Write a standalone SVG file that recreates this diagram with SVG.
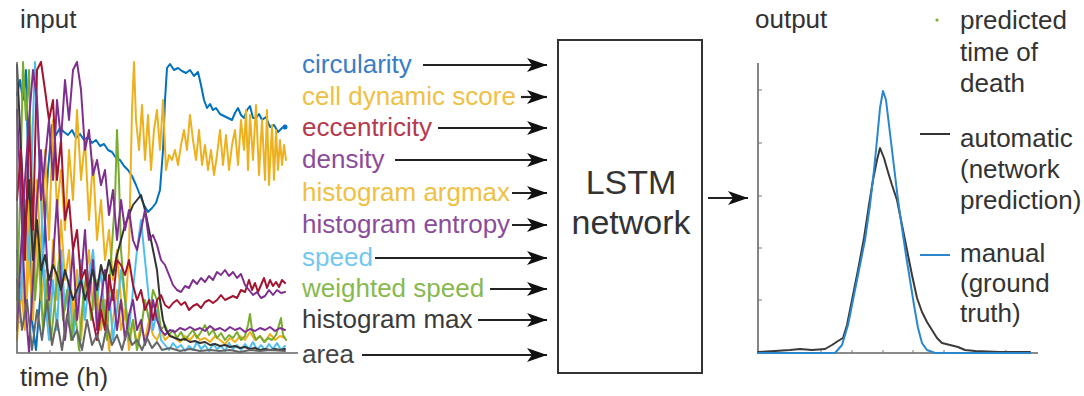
<svg xmlns="http://www.w3.org/2000/svg" width="1084" height="396" viewBox="0 0 1084 396">
<style>
text{font-family:"Liberation Sans",Arial,sans-serif;font-size:26px;fill:#333}
.ax{stroke:#666;stroke-width:1.6;fill:none}
.tk{stroke:#777;stroke-width:1;fill:none}
.s{fill:none;stroke-width:2;stroke-linejoin:round;stroke-linecap:round}
.arr{stroke:#222;stroke-width:2.2;fill:none}
</style>
<defs>
<marker id="ah" markerUnits="userSpaceOnUse" markerWidth="20" markerHeight="14" refX="20" refY="7" orient="auto">
<path d="M0,0 L20,7 L0,14 L5,7 z" fill="#111"/>
</marker>
</defs>
<rect width="1084" height="396" fill="#fff"/>

<g id="input-plot">
<text x="20" y="28">input</text>
<polyline class="s" stroke="#0072BD" points="17,95 20,80 23,100 26,70 29,200 32,320 36,350 40,300 44,240 48,170 52,125 56,135 60,128 64,132 68,135 72,130 76,138 80,134 84,140 88,137 92,143 96,140 100,146 104,144 108,150 112,152 116,158 120,160 124,166 128,170 132,176 136,185 140,195 144,205 148,212 152,208 156,203 160,190 163,150 165,100 167,68 170,64 174,70 178,68 182,71 186,73 190,70 194,76 198,72 201,85 204,100 207,108 210,104 213,110 216,108 220,114 224,116 228,118 232,120 235,113 238,108 241,115 244,118 247,110 250,106 253,118 256,118 259,114 262,120 266,117 270,127 274,125 278,132 282,128 285,126"/>
<polyline class="s" stroke="#EDB120" points="17,300 21,250 25,320 29,200 33,290 37,180 41,260 45,150 49,240 53,120 57,210 61,170 65,230 69,150 73,200 77,110 81,180 85,140 89,220 93,160 97,240 101,200 105,260 109,230 113,280 117,250 121,300 125,320 129,250 132,110 134,62 136,120 139,150 142,105 145,160 148,115 151,170 154,130 157,110 160,150 163,100 166,170 169,155 172,160 175,150 178,165 181,145 184,130 187,150 190,115 193,140 196,160 199,130 202,165 205,145 208,170 211,150 214,175 217,155 220,130 223,165 226,135 229,170 232,145 235,130 238,165 241,120 244,150 246,110 248,170 250,115 253,160 256,105 259,175 262,120 265,180 267,110 269,185 272,125 274,180 276,130 278,170 280,140 282,165 284,145 286,160"/>
<polyline class="s" stroke="#EDB120" points="17,340 21,290 25,330 29,260 33,320 37,230 41,300 45,270 49,330 53,240 57,300 61,220 65,280 69,250 73,320 77,270 81,340 85,290 89,250 93,310 97,280 101,330 105,300 109,350 113,320 117,290 121,330 125,310 129,350 133,320 137,345 141,325 145,340 149,320 153,335 157,340 161,330 165,340 170,335 175,338 180,342 185,336 190,340 195,334 200,340 205,338 210,342 215,336 220,340 225,344 230,338 235,342 240,336 245,340 250,332 255,340 260,336 265,342 270,334 275,340 280,336 285,338"/>
<polyline class="s" stroke="#4DBEEE" points="17,250 21,300 25,200 29,260 33,120 35,62 37,100 41,200 45,300 49,340 53,280 57,330 61,250 65,310 69,280 73,340 77,300 81,260 85,320 89,280 93,250 97,300 101,270 105,320 109,290 113,340 117,310 121,270 125,300 129,330 133,290 137,250 141,220 145,260 149,300 153,330 157,310 161,340 165,345 169,350 173,343 177,348 181,345 185,351 189,346 193,350 197,342 201,349 205,345 209,351 213,344 217,349 221,346 225,351 229,343 233,349 237,345 241,350 245,344 249,349 253,342 257,350 261,345 265,350 269,344 273,349 277,343 281,350 285,346"/>
<polyline class="s" stroke="#77AC30" points="17,300 20,200 23,62 26,120 29,70 32,200 35,300 39,250 43,330 47,280 51,340 55,300 59,260 63,320 67,290 71,340 75,310 79,350 83,300 87,270 91,320 95,280 99,330 103,300 107,340 111,260 115,200 117,130 119,180 121,250 125,300 129,340 133,320 137,350 141,330 145,300 149,320 153,290 157,300 161,330 165,325 169,335 173,330 177,338 181,332 185,340 189,335 193,330 197,338 201,332 205,325 209,335 213,330 217,338 221,333 225,340 229,335 233,338 237,332 241,340 245,336 248,325 250,314 252,330 256,340 260,336 264,342 268,338 272,340 276,335 279,325 281,318 283,335 286,340"/>
<polyline class="s" stroke="#7E2F8E" points="17,110 21,200 25,300 29,352 33,280 37,200 41,150 45,220 49,300 53,260 57,200 61,280 65,340 69,300 73,250 77,320 81,280 85,230 89,300 93,260 97,330 101,300 105,270 109,310 113,290 117,330 121,300 125,340 129,315 133,300 137,330 141,320 145,345 149,330 153,300 157,320 161,330 165,335 170,330 175,332 180,328 185,330 190,327 195,330 200,328 205,331 210,326 215,330 220,328 225,331 230,327 235,330 240,328 245,332 250,329 255,331 260,328 265,330 270,327 275,331 280,328 285,330"/>
<polyline class="s" stroke="#333" points="17,65 21,150 25,230 29,180 33,260 37,220 41,270 45,255 49,280 53,265 57,275 61,290 65,270 69,285 73,300 77,290 81,280 85,300 89,285 93,270 97,290 101,265 105,280 109,260 113,275 117,255 121,240 125,225 129,215 133,205 137,200 141,195 145,210 149,230 153,250 157,270 160,300 163,320 166,330 170,336 175,338 180,340 185,339 190,342 195,341 200,343 205,342 210,345 215,344 220,346 225,345 230,347 235,346 240,348 245,347 250,349 255,348 260,350 265,349 270,350 275,349 280,350 285,349"/>
<polyline class="s" stroke="#A2142F" points="17,200 21,150 25,260 29,120 33,230 37,70 41,62 45,90 49,120 53,100 57,180 61,140 65,220 69,200 73,250 77,230 81,280 85,270 89,300 93,320 97,340 101,310 105,330 109,275 113,300 117,260 121,265 125,275 129,260 133,285 137,300 141,290 145,310 149,300 153,320 157,300 161,295 165,305 169,308 173,303 177,300 181,305 185,302 189,310 193,306 197,304 201,308 205,302 209,300 213,303 217,300 221,295 225,300 229,298 233,296 237,298 241,290 245,292 249,280 252,290 255,283 258,292 261,285 264,278 267,288 270,280 273,286 276,282 279,287 282,280 285,283"/>
<polyline class="s" stroke="#7E2F8E" points="17,330 21,250 25,180 29,120 33,70 37,100 41,200 45,160 49,120 53,180 57,100 61,140 65,80 69,120 73,70 77,62 81,90 85,150 89,130 93,175 97,160 101,185 105,170 109,215 113,190 117,240 121,200 125,230 129,210 133,240 137,250 141,230 145,210 149,240 153,235 157,245 161,260 165,265 169,275 173,285 177,290 181,292 185,286 189,288 193,280 197,284 201,278 205,282 209,276 213,280 217,272 221,275 225,270 229,276 233,272 237,278 241,274 245,285 249,290 253,295 257,292 261,298 265,296 269,290 273,295 277,290 281,293 285,292"/>
<polyline class="s" stroke="#666" points="17,280 22,330 27,300 32,350 37,310 42,340 47,300 52,345 57,320 62,350 67,315 72,340 77,330 82,350 87,320 92,345 97,335 102,350 107,325 112,345 117,335 122,350 127,330 132,345 137,340 142,350 147,338 152,348 157,342 162,350 170,348 180,351 190,349 200,351 210,350 220,351 230,350 240,352 250,350 260,351 270,350 285,351"/>
<circle cx="285" cy="127" r="2.5" fill="#0072BD"/>
<path class="ax" d="M17,62 V353 H298"/>
<path class="tk" d="M17,290 h3 M17,322 h3 M50,353 v-3 M80,353 v-3 M110,353 v-3"/>
<text x="20" y="386">time (h)</text>
</g>

<g id="labels">
<text x="302" y="73" style="fill:#3a7ec6">circularity</text>
<text x="302" y="105" style="fill:#f0bf45">cell dynamic score</text>
<text x="302" y="136" style="fill:#b53a4e">eccentricity</text>
<text x="302" y="168" style="fill:#8b4c9b">density</text>
<text x="302" y="201" style="fill:#efc043">histogram argmax</text>
<text x="302" y="233" style="fill:#8b4c9b">histogram entropy</text>
<text x="302" y="266" style="fill:#72c8ef">speed</text>
<text x="302" y="297" style="fill:#88b94e">weighted speed</text>
<text x="302" y="328" style="fill:#3a3a3a">histogram max</text>
<text x="302" y="363" style="fill:#444">area</text>
</g>

<g id="connectors">
<line class="arr" x1="423" y1="65" x2="547" y2="65" marker-end="url(#ah)"/>
<line class="arr" x1="521" y1="97" x2="547" y2="97" marker-end="url(#ah)"/>
<line class="arr" x1="438" y1="128" x2="547" y2="128" marker-end="url(#ah)"/>
<line class="arr" x1="395" y1="160" x2="547" y2="160" marker-end="url(#ah)"/>
<line class="arr" x1="512" y1="193" x2="547" y2="193" marker-end="url(#ah)"/>
<line class="arr" x1="512" y1="225" x2="547" y2="225" marker-end="url(#ah)"/>
<line class="arr" x1="375" y1="258" x2="547" y2="258" marker-end="url(#ah)"/>
<line class="arr" x1="490" y1="289" x2="547" y2="289" marker-end="url(#ah)"/>
<line class="arr" x1="478" y1="320" x2="547" y2="320" marker-end="url(#ah)"/>
<line class="arr" x1="362" y1="355" x2="547" y2="355" marker-end="url(#ah)"/>
<line class="arr" x1="708" y1="198" x2="748" y2="198" marker-end="url(#ah)"/>
</g>

<g id="lstm">
<rect x="558" y="40" width="144" height="333" fill="#fff" stroke="#333" stroke-width="2"/>
<text x="631" y="194" text-anchor="middle" style="font-size:34px">LSTM</text>
<text x="631" y="234" text-anchor="middle" style="font-size:34px">network</text>
</g>

<g id="output-plot">
<text x="755" y="28">output</text>
<path class="ax" d="M758,63 V353 H1038"/>
<path class="tk" d="M758,90 h4 M758,143 h4 M758,196 h4 M758,248 h4 M758,300 h4 M821,353 v-3 M852,353 v-3 M883,353 v-3 M913,353 v-3 M944,353 v-3 M975,353 v-3 M1006,353 v-3"/>
<polyline class="s" stroke="#3a3a3a" points="758,352 775,351 790,350 800,349 812,350 825,349 832,345 838,341 843,338 847,325 852,300 858,270 864,238 869,205 873,180 877,160 880,148 884,158 888,172 892,185 897,200 902,225 907,250 912,275 917,298 922,312 927,322 932,330 937,338 942,343 950,345 958,347 965,350 975,351 1000,352 1030,352"/>
<polyline class="s" stroke="#2b86cc" points="758,353 835,353 842,345 848,325 853,300 859,270 865,240 870,205 874,170 877,140 880,108 883,91 886,100 889,125 892,150 895,175 898,200 902,228 906,255 910,280 914,305 918,328 922,343 927,350 935,353 1030,353"/>
<circle cx="937" cy="20" r="1.6" fill="#77AC30"/>
<text x="960" y="29">predicted</text>
<text x="960" y="61">time of</text>
<text x="960" y="92">death</text>
<line x1="920" y1="134" x2="950" y2="134" stroke="#333" stroke-width="2"/>
<text x="960" y="147">automatic</text>
<text x="960" y="178">(network</text>
<text x="960" y="209">prediction)</text>
<line x1="920" y1="255" x2="950" y2="255" stroke="#2b86cc" stroke-width="2"/>
<text x="960" y="262">manual</text>
<text x="960" y="292">(ground</text>
<text x="960" y="322">truth)</text>
</g>
</svg>
